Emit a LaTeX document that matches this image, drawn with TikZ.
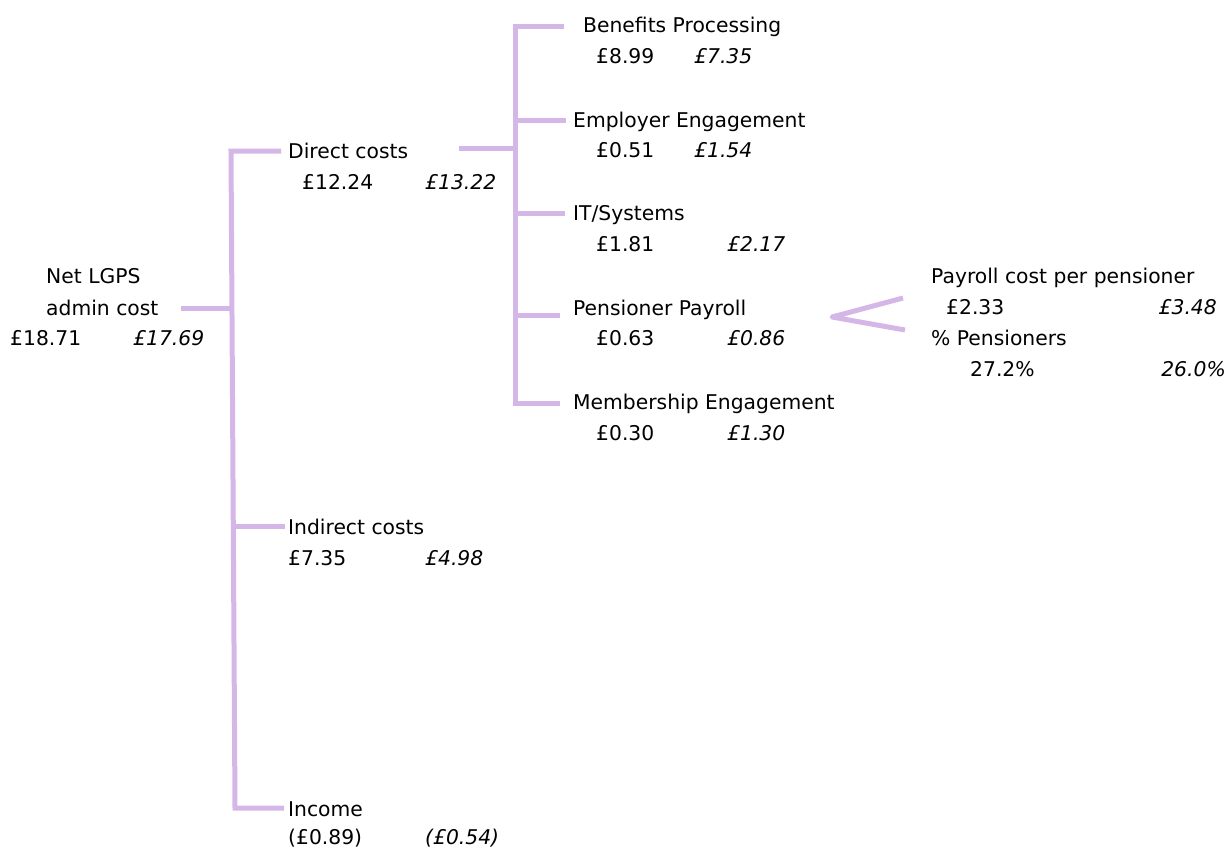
\documentclass[tikz,border=0pt]{standalone}
\usepackage{fontspec}
\setmainfont{DejaVu Sans}
\definecolor{lav}{RGB}{213,183,231}
\begin{document}
\begin{tikzpicture}[x=1pt,y=-1pt,
  conn/.style={draw=lav,line width=5pt,line join=miter},
  lbl/.style={anchor=base west,inner sep=0pt,font=\fontsize{20.3}{24}\selectfont},
  ilbl/.style={lbl,font=\fontsize{20.3}{24}\selectfont\itshape},
  rlbl/.style={lbl,anchor=base east},
  irlbl/.style={ilbl,anchor=base east}]
\useasboundingbox (0,0) rectangle (1229,849);
% root
\node[lbl] (net1) at (46,283) {Net LGPS};
\node[lbl] (net2) at (46,315) {admin cost};
\node[lbl] (netA) at (10,345) {£18.71};
\node[ilbl] (netB) at (133,345) {£17.69};
% level 1
\node[lbl] (dc) at (288,158) {Direct costs};
\node[lbl] (dcA) at (302,189) {£12.24};
\node[ilbl] (dcB) at (425,189) {£13.22};
\node[lbl] (ic) at (288,534) {Indirect costs};
\node[lbl] (icA) at (288,565) {£7.35};
\node[ilbl] (icB) at (425,565) {£4.98};
\node[lbl] (inc) at (288,816) {Income};
\node[lbl] (incA) at (288,844) {(£0.89)};
\node[ilbl] (incB) at (425,844) {(£0.54)};
% level 2
\node[lbl] (bp) at (583,32) {Benefits Processing};
\node[lbl] (bpA) at (596,63) {£8.99};
\node[ilbl] (bpB) at (694,63) {£7.35};
\node[lbl] (ee) at (573,127) {Employer Engagement};
\node[lbl] (eeA) at (596,157) {£0.51};
\node[ilbl] (eeB) at (694,157) {£1.54};
\node[lbl] (it) at (573,220) {IT/Systems};
\node[lbl] (itA) at (596,251) {£1.81};
\node[ilbl] (itB) at (727,251) {£2.17};
\node[lbl] (pp) at (573,315) {Pensioner Payroll};
\node[lbl] (ppA) at (596,345) {£0.63};
\node[ilbl] (ppB) at (727,345) {£0.86};
\node[lbl] (me) at (573,409) {Membership Engagement};
\node[lbl] (meA) at (596,440) {£0.30};
\node[ilbl] (meB) at (727,440) {£1.30};
% level 3
\node[lbl] (pc) at (931,283) {Payroll cost per pensioner};
\node[lbl] (pcA) at (946,314) {£2.33};
\node[irlbl] (pcB) at (1217,314) {£3.48};
\node[lbl] (pn) at (931,345) {\% Pensioners};
\node[lbl] (pnA) at (970,376) {27.2\%};
\node[irlbl] (pnB) at (1226,376) {26.0\%};
% connector coordinates
\coordinate (r0) at (181,308);
\coordinate (rj) at (232,308);
\coordinate (t1) at (281,151);
\coordinate (c1) at (231,151);
\coordinate (c2) at (235,808);
\coordinate (t3) at (284,808);
\coordinate (j2) at (233,526);
\coordinate (t2) at (285,526);
\coordinate (d0) at (459,148);
\coordinate (dj) at (515,148);
\coordinate (b1) at (564,26);
\coordinate (k1) at (515,26);
\coordinate (k5) at (515,403);
\coordinate (b5) at (560,403);
\coordinate (k2) at (515,120);
\coordinate (b2) at (566,120);
\coordinate (k3) at (515,213);
\coordinate (b3) at (565,213);
\coordinate (k4) at (515,315);
\coordinate (b4) at (560,315);
\coordinate (v1) at (903,298);
\coordinate (v0) at (832,317);
\coordinate (v2) at (905,330);
% connectors
\draw[conn] (r0) -- (rj);
\draw[conn] (t1) -- (c1) -- (c2) -- (t3);
\draw[conn] (j2) -- (t2);
\draw[conn] (d0) -- (dj);
\draw[conn] (b1) -- (k1) -- (k5) -- (b5);
\draw[conn] (k2) -- (b2);
\draw[conn] (k3) -- (b3);
\draw[conn] (k4) -- (b4);
\draw[conn,line join=round] (v1) -- (v0) -- (v2);
\end{tikzpicture}
\end{document}
